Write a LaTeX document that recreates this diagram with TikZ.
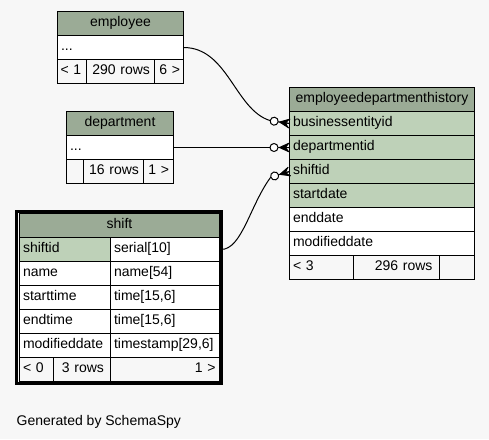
\documentclass[tikz,border=0pt]{standalone}
\usepackage{fontspec}
\setmainfont{Liberation Sans}
\usetikzlibrary{calc}
\definecolor{bgc}{HTML}{F7F7F7}
\definecolor{hdrc}{HTML}{9BAB96}
\definecolor{keyc}{HTML}{BED1B8}
\tikzset{
  cell/.style={draw=black, line width=1pt, anchor=north west, inner ysep=0pt,
    inner xsep=3.5pt, outer sep=0pt, minimum height=24pt, text height=10pt,
    text depth=5pt, font=\fontsize{14pt}{16pt}\selectfont},
  hdr/.style={cell, fill=hdrc},
  keycell/.style={cell, fill=keyc},
  plain/.style={cell, fill=white},
  foot/.style={cell},
  lt/.style={text width=#1, align=left},
  rt/.style={text width=#1, align=right},
  conn/.style={draw=black, line width=1pt},
}
\newcommand\erfoot[2]{%
  \begin{scope}[shift={(#1)},rotate=#2]
    \fill[black] (-10,0) -- (0,-4.5) -- (-3.5,0) -- (0,4.5) -- cycle;
    \draw[conn] (-10,0) -- (0,-4.5) (-10,0) -- (0,0) (-10,0) -- (0,4.5);
    \draw[conn, fill=white] (-15.5,0) circle[radius=4pt];
  \end{scope}}
\begin{document}
\begin{tikzpicture}[x=1pt,y=-1pt]
\fill[bgc] (0,0) rectangle (489,439);
\useasboundingbox (0,0) rectangle (489,439);

% employee
\node[hdr, minimum width=126] (emph) at (57.5,11.5) {employee};
\node[plain, minimum width=126, lt=119] (emprow) at (57.5,35.5) {...};
\node[foot, minimum width=29, inner xsep=3pt, lt=23] (empf1) at (57.5,59.5) {\mbox{< 1}};
\node[foot, minimum width=68, inner xsep=4.5pt, rt=59] (empf2) at (86.5,59.5) {\mbox{290 rows}};
\node[foot, minimum width=29, inner xsep=3.5pt, rt=22] (empf3) at (154.5,59.5) {\mbox{6 >}};

% department
\node[hdr, minimum width=107] (deph) at (66.5,111.5) {department};
\node[plain, minimum width=107, lt=100] (deprow) at (66.5,135.5) {...};
\node[foot, minimum width=17, lt=10] (depf1) at (66.5,159.5) {};
\node[foot, minimum width=60, inner xsep=4.5pt, rt=51] (depf2) at (83.5,159.5) {\mbox{16 rows}};
\node[foot, minimum width=30, inner xsep=4.5pt, rt=21] (depf3) at (143.5,159.5) {\mbox{1 >}};

% employeedepartmenthistory
\node[hdr, minimum width=185] (edhh) at (289.5,87.5) {employeedepartmenthistory};
\node[keycell, minimum width=185, lt=178] (edhbe) at (289.5,111.5) {businessentityid};
\node[keycell, minimum width=185, lt=178] (edhdept) at (289.5,135.5) {departmentid};
\node[keycell, minimum width=185, lt=178] (edhshift) at (289.5,159.5) {shiftid};
\node[keycell, minimum width=185, lt=178] (edhstart) at (289.5,183.5) {startdate};
\node[plain, minimum width=185, lt=178] (edhend) at (289.5,207.5) {enddate};
\node[plain, minimum width=185, lt=178] (edhmod) at (289.5,231.5) {modifieddate};
\node[foot, minimum width=64, lt=57] (edhf1) at (289.5,255.5) {\mbox{< 3}};
\node[foot, minimum width=86, inner xsep=7pt, rt=72] (edhf2) at (353.5,255.5) {\mbox{296 rows}};
\node[foot, minimum width=35, lt=28] (edhf3) at (439.5,255.5) {};

% shift
\node[hdr, minimum width=200] (shh) at (19.5,213.5) {shift};
\node[keycell, minimum width=91, lt=84] (shidk) at (19.5,237.5) {shiftid};
\node[plain, minimum width=109, lt=102] (shidt) at (110.5,237.5) {serial[10]};
\node[plain, minimum width=91, lt=84] (shnk) at (19.5,261.5) {name};
\node[plain, minimum width=109, lt=102] (shnt) at (110.5,261.5) {name[54]};
\node[plain, minimum width=91, lt=84] (shsk) at (19.5,285.5) {starttime};
\node[plain, minimum width=109, lt=102] (shst) at (110.5,285.5) {time[15,6]};
\node[plain, minimum width=91, lt=84] (shek) at (19.5,309.5) {endtime};
\node[plain, minimum width=109, lt=102] (shet) at (110.5,309.5) {time[15,6]};
\node[plain, minimum width=91, lt=84] (shmk) at (19.5,333.5) {modifieddate};
\node[plain, minimum width=109, lt=102] (shmt) at (110.5,333.5) {timestamp[29,6]};
\node[foot, minimum width=34, lt=27] (shf1) at (19.5,357.5) {\mbox{< 0}};
\node[foot, minimum width=57, inner xsep=6.5pt, rt=44] (shf2) at (53.5,357.5) {\mbox{3 rows}};
\node[foot, minimum width=109, inner xsep=4pt, rt=101] (shf3) at (110.5,357.5) {\mbox{1 >}};
\node[draw=black, line width=3pt, anchor=north west, inner sep=0pt, outer sep=0pt,
      minimum width=204.5, minimum height=172] (shframe) at (16.5,211) {};

% connectors
\coordinate (c1) at ($(edhbe.west)+(-19.3,-2.9)$);
\draw[conn] (emprow.east) .. controls +(44.5,0) and +(-35.2,-10.6) .. (c1) -- (edhbe.west);
\erfoot{edhbe.west}{-8.5}

\draw[conn] (deprow.east) -- (edhdept.west);
\erfoot{edhdept.west}{0}

\coordinate (c3) at ($(edhshift.west)+(-18.7,5.6)$);
\draw[conn] (shframe.east |- shidt.east) .. controls +(21,0) and +(-20.8,27.9) .. (c3) -- (edhshift.west);
\erfoot{edhshift.west}{16.7}

\node[anchor=base west, inner sep=0pt, font=\fontsize{14pt}{16pt}\selectfont] (gen) at (16.5,425) {Generated by SchemaSpy};
\end{tikzpicture}
\end{document}
